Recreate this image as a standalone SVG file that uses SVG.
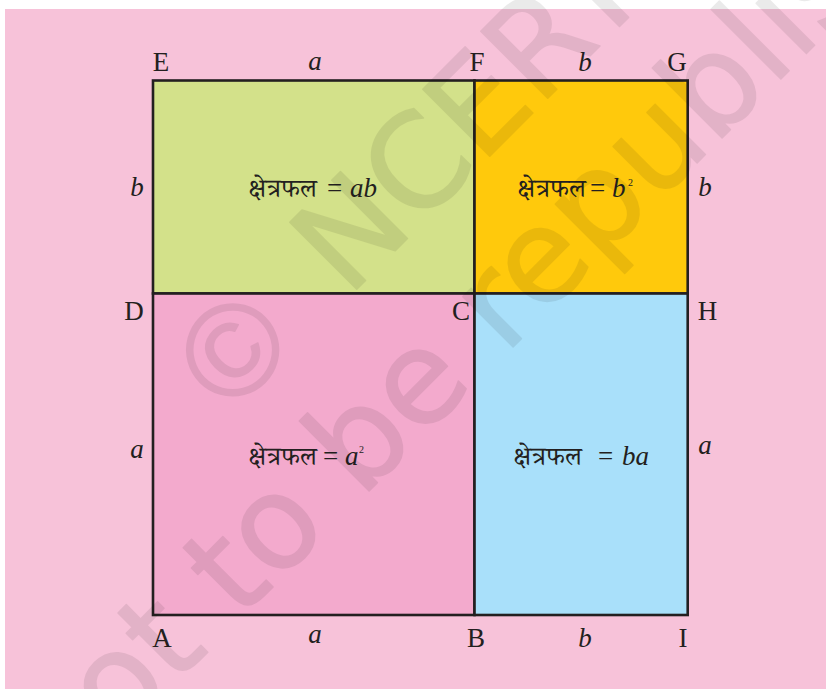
<svg xmlns="http://www.w3.org/2000/svg" width="826" height="689" viewBox="0 0 826 689">
<style>
.reg{stroke:#231f20;stroke-width:2.6}
.lbl{font-family:"Liberation Serif","Times New Roman",serif;font-size:27px;fill:#231f20}
.mid{text-anchor:middle}
.it{font-style:italic}
.dev{font-family:"Noto Serif Devanagari","Noto Sans Devanagari",serif;font-size:26px;fill:#231f20}
.sup{font-family:"Liberation Serif","Times New Roman",serif;font-size:10px;fill:#231f20}
.wm{font-size:130px;fill:#000;stroke:#000;stroke-width:1.5;stroke-linejoin:round;opacity:0.08}
</style>
<rect width="826" height="689" fill="#fff"/>
<rect x="5" y="9" width="821" height="680" fill="#f7c2d9"/>
<g id="region-EFCD">
<rect class="reg" x="153" y="80.5" width="321.5" height="213" fill="#d3e18a"/>
<text class="dev" x="248" y="197">क्षेत्रफल</text>
<text class="lbl" x="327" y="197">=</text>
<text class="lbl it" x="350" y="197">ab</text>
</g>
<g id="region-FGHC">
<rect class="reg" x="474.5" y="80.5" width="213.2" height="213" fill="#ffc90c"/>
<text class="dev" x="517" y="197">क्षेत्रफल</text>
<text class="lbl" x="590" y="197">=</text>
<text class="lbl it" x="612" y="197">b</text>
<text class="sup" x="628" y="186">2</text>
</g>
<g id="region-DCBA">
<rect class="reg" x="153" y="293.5" width="321.5" height="321.5" fill="#f3aacd"/>
<text class="dev" x="248" y="465">क्षेत्रफल</text>
<text class="lbl" x="323" y="465">=</text>
<text class="lbl it" x="345" y="465">a</text>
<text class="sup" x="359" y="453">2</text>
</g>
<g id="region-CHIB">
<rect class="reg" x="474.5" y="293.5" width="213.2" height="321.5" fill="#a9e0fa"/>
<text class="dev" x="513" y="465">क्षेत्रफल</text>
<text class="lbl" x="598" y="465">=</text>
<text class="lbl it" x="622" y="465">ba</text>
</g>
<g id="vertex-labels" class="lbl mid">
<text x="161" y="71">E</text>
<text x="477" y="71">F</text>
<text x="677" y="71">G</text>
<text x="134" y="320">D</text>
<text x="461" y="320">C</text>
<text x="707.5" y="320">H</text>
<text x="162" y="647">A</text>
<text x="476" y="647">B</text>
<text x="683" y="647">I</text>
</g>
<g id="side-labels" class="lbl mid it">
<text x="315" y="70">a</text>
<text x="585" y="71">b</text>
<text x="137" y="196">b</text>
<text x="705" y="196">b</text>
<text x="137" y="458">a</text>
<text x="705" y="454">a</text>
<text x="315" y="643">a</text>
<text x="585" y="647">b</text>
</g>
<g id="watermark">
<text class="wm" font-family="'Liberation Sans', sans-serif" text-anchor="middle" x="-83" y="0" transform="translate(323,323) rotate(-45)">©</text>
<text class="wm" font-family="'DejaVu Sans', sans-serif" x="35" y="0" transform="translate(323,323) rotate(-45)">NCERT</text>
<text class="wm" font-family="'DejaVu Sans', sans-serif" x="-524" y="0" transform="translate(430,430) rotate(-45)">not to be republished</text>
</g>
</svg>
